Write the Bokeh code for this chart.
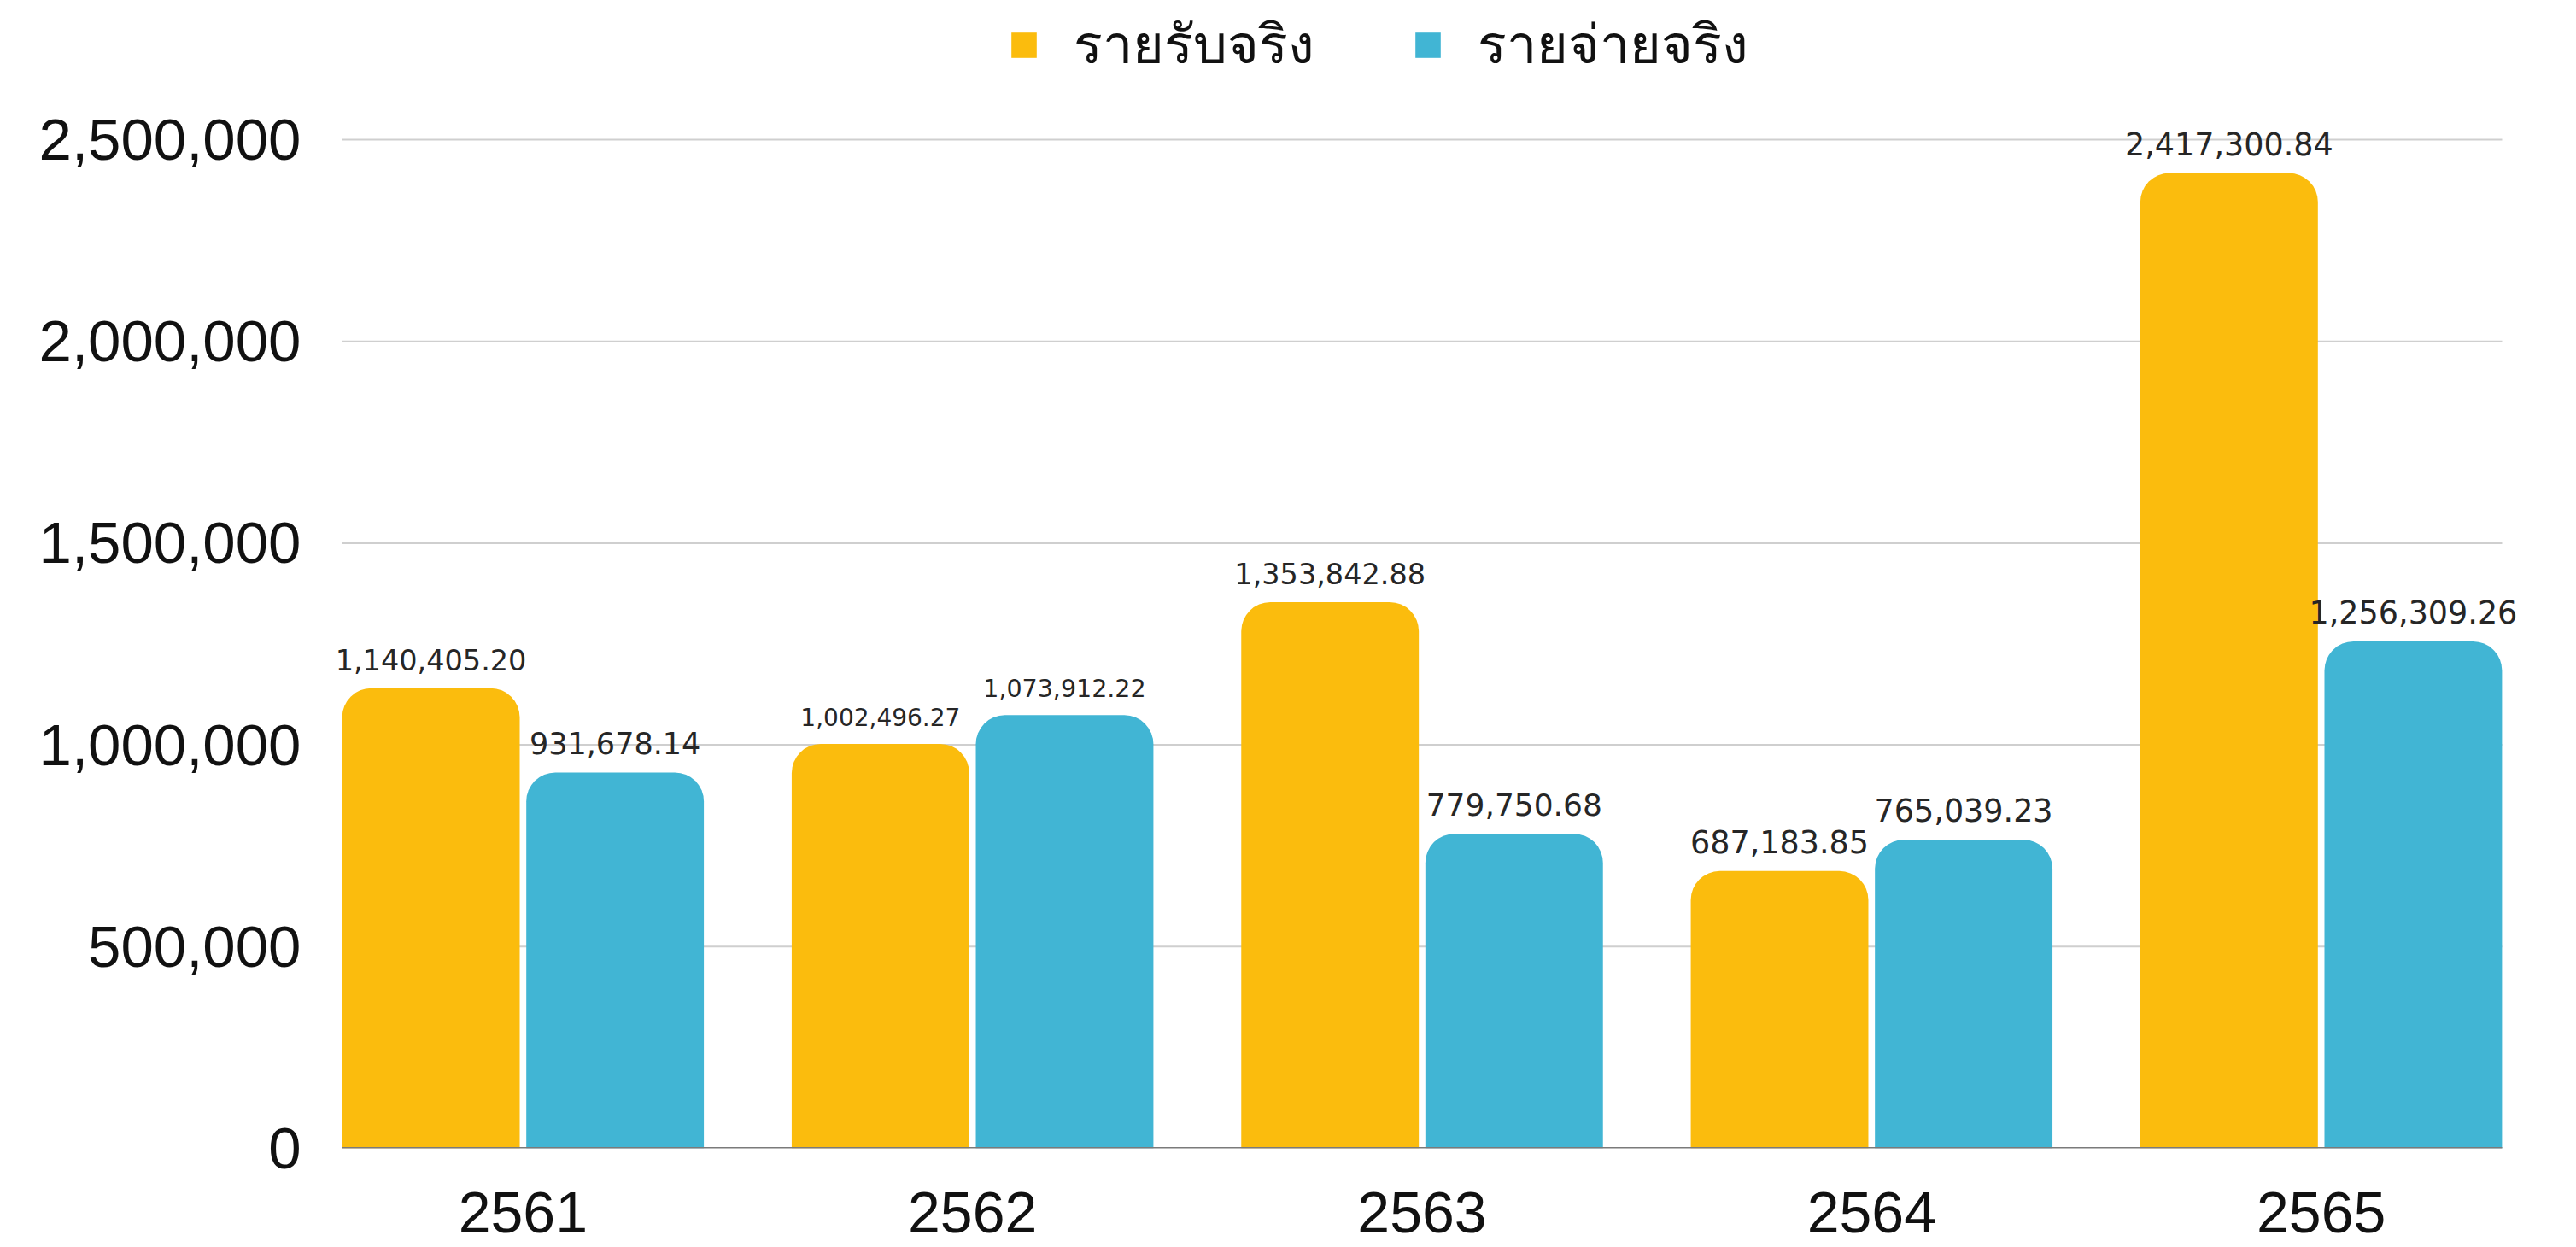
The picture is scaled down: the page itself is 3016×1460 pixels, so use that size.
from bokeh.plotting import figure
from bokeh.models import (ColumnDataSource, Range1d, FixedTicker, NumeralTickFormatter,
                          LabelSet, Legend, LegendItem)
from bokeh.core.properties import value
from bokeh.embed import file_html
from bokeh.resources import INLINE

years = ["2561", "2562", "2563", "2564", "2565"]
income = [1140405.20, 1002496.27, 1353842.88, 687183.85, 2417300.84]
expense = [931678.14, 1073912.22, 779750.68, 765039.23, 1256309.26]
series_names = ["รายรับจริง", "รายจ่ายจริง"]
y_ticks = [0, 500000, 1000000, 1500000, 2000000, 2500000]

# style
c_income = "#FBBC0D"
c_expense = "#41B5D4"
label_sizes_income = ["33.5px", "28px", "33.5px", "36.5px", "36.5px"]
label_sizes_expense = ["35px", "28.5px", "36px", "36.5px", "36.5px"]
bar_w = 0.395
offset = 0.2048
px_per_unit = 526.3
x_lo, x_hi = -0.4025, len(years) - 1 + 0.4025   # visible chart extent
pad_left_px, pad_right_px = 30, 62              # extra room for edge labels
x_start = x_lo - pad_left_px / px_per_unit
x_end = x_hi + pad_right_px / px_per_unit

idx = list(range(len(years)))

p = figure(width=3000, height=1456, output_backend="svg", toolbar_location=None,
           x_range=Range1d(x_start, x_end),
           y_range=Range1d(0, 2845047),
           min_border_left=400 - pad_left_px, min_border_right=71 - pad_right_px,
           min_border_bottom=112, min_border_top=0)
p.outline_line_color = None
p.background_fill_color = "white"

# grid lines drawn only over the chart extent
grid_src = ColumnDataSource(dict(y=y_ticks[1:], x0=[x_lo] * 5, x1=[x_hi] * 5))
p.segment(x0="x0", x1="x1", y0="y", y1="y", source=grid_src,
          line_color="#cfcfcf", line_width=2)

src_i = ColumnDataSource(dict(x=[i - offset for i in idx], top=income,
                              txt=[f"{v:,.2f}" for v in income], fs=label_sizes_income))
src_e = ColumnDataSource(dict(x=[i + offset for i in idx], top=expense,
                              txt=[f"{v:,.2f}" for v in expense], fs=label_sizes_expense))

r1 = p.vbar(x="x", top="top", bottom=0, width=bar_w, source=src_i, fill_color=c_income,
            line_color=None, border_radius=(34, 34, 0, 0))
r2 = p.vbar(x="x", top="top", bottom=0, width=bar_w, source=src_e, fill_color=c_expense,
            line_color=None, border_radius=(34, 34, 0, 0))
# baseline
p.segment(x0=[x_lo], x1=[x_hi], y0=[0], y1=[0], line_color="#7a7a7a", line_width=3)

for s in (src_i, src_e):
    p.add_layout(LabelSet(x="x", y="top", text="txt", source=s, text_align="center",
                          text_baseline="alphabetic", y_offset=21,
                          text_font=value("DejaVu Sans"),
                          text_font_size="fs", text_color="#262626"))

# legend
legend = Legend(items=[LegendItem(label=series_names[0], renderers=[r1]),
                       LegendItem(label=series_names[1], renderers=[r2])],
                orientation="horizontal", location=(780 + pad_left_px, 1242),
                glyph_width=37, glyph_height=37, label_standoff=40, spacing=114,
                label_text_font="Noto Sans", label_text_font_size="63px",
                label_text_color="#111111", border_line_color=None,
                background_fill_alpha=0, padding=0, margin=0)
p.add_layout(legend, "center")

# axes
p.xaxis.ticker = FixedTicker(ticks=idx)
p.xaxis.major_label_overrides = {i: y for i, y in enumerate(years)}
p.xaxis.major_tick_line_color = None
p.xaxis.minor_tick_line_color = None
p.xaxis.axis_line_color = None
p.xaxis.major_label_text_font = "Liberation Sans"
p.xaxis.major_label_text_font_size = "68px"
p.xaxis.major_label_text_color = "#111111"
p.xaxis.major_label_standoff = 45

p.yaxis.ticker = FixedTicker(ticks=y_ticks)
p.yaxis.formatter = NumeralTickFormatter(format="0,0")
p.yaxis.major_tick_line_color = None
p.yaxis.minor_tick_line_color = None
p.yaxis.axis_line_color = None
p.yaxis.major_label_text_font = "Liberation Sans"
p.yaxis.major_label_text_font_size = "69px"
p.yaxis.major_label_text_color = "#111111"
p.yaxis.major_label_standoff = 42 - pad_left_px

p.xgrid.grid_line_color = None
p.ygrid.grid_line_color = None

open("out.html", "w").write(file_html(p, INLINE))
